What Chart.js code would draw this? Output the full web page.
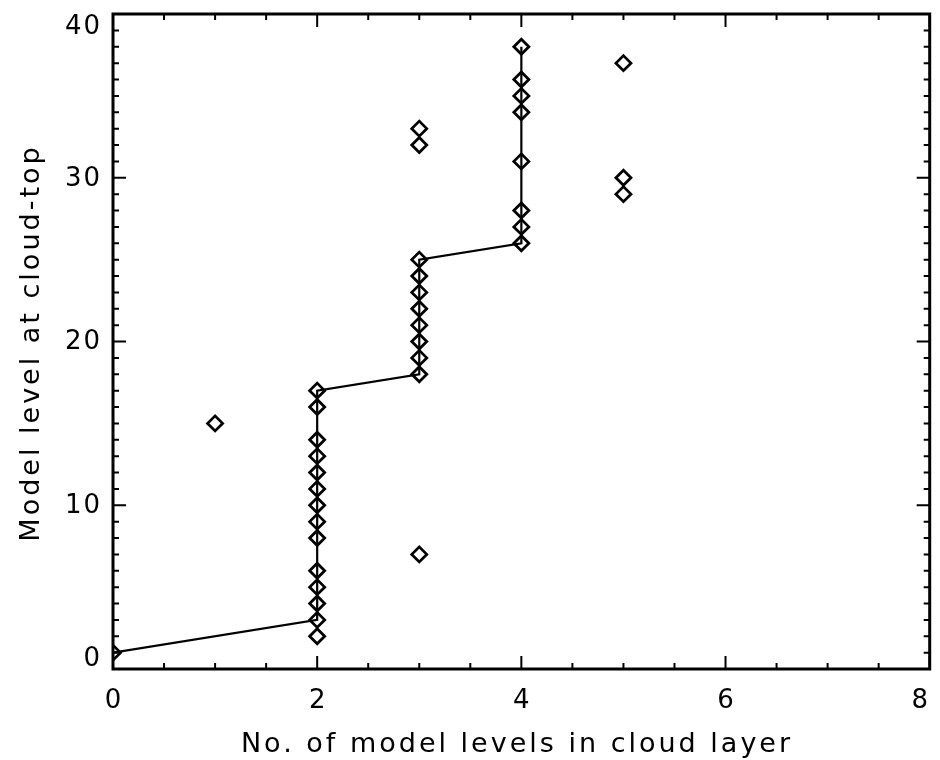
<!DOCTYPE html>
<html lang="en">
<head>
  <meta charset="UTF-8">
  <script src="https://cdn.jsdelivr.net/npm/chart.js"></script>
  <title>cloud top levels</title>
</head>
<style>
  body{
    margin: 0;
    background: #fff;
  }
  .container{
    width: 940px;
    height: 760px;
  }
</style>
<body>
  <div class="container">
    <canvas id="scatter" width="940" height="760"></canvas>
  </div>
  <script>
    // points: number of levels in the cloud layer vs level of the cloud top
    const layerLevels = [0, 1,
      2, 2, 2, 2, 2, 2, 2, 2, 2, 2, 2, 2, 2, 2,
      3, 3, 3, 3, 3, 3, 3, 3, 3, 3, 3,
      4, 4, 4, 4, 4, 4, 4, 4,
      5, 5, 5];
    const topLevels = [1, 15,
      2, 3, 4, 5, 6, 8, 9, 10, 11, 12, 13, 14, 16, 17,
      7, 18, 19, 20, 21, 22, 23, 24, 25, 32, 33,
      26, 27, 28, 31, 34, 35, 36, 38,
      29, 30, 37];

    // the step line
    const lineX = [0, 2, 2, 3, 3, 4, 4];
    const lineY = [1, 3, 17, 18, 25, 26, 38];

    const xTicks = [0, 2, 4, 6, 8];
    const yTicks = [0, 10, 20, 30, 40];

    const xTitle = 'No. of model levels in cloud layer';
    const yTitle = 'Model level at cloud-top';

    const points = layerLevels.map((x, i) => ({x: x, y: topLevels[i]}));
    const line = lineX.map((x, i) => ({x: x, y: lineY[i]}));

    // frame, ticks and labels drawn in the IDL style
    const axesPlugin = {
      id: 'idlAxes',
      afterDraw(chart) {
        const ctx = chart.ctx;
        const a = chart.chartArea;
        const xs = chart.scales.x, ys = chart.scales.y;
        ctx.save();
        ctx.strokeStyle = '#000';
        ctx.lineWidth = 3;
        ctx.strokeRect(a.left, a.top, a.right - a.left, a.bottom - a.top);

        ctx.lineWidth = 2;
        ctx.beginPath();
        for (let v = 0; v <= 8; v += 0.5) {
          const px = xs.getPixelForValue(v);
          const len = (v % 2 === 0) ? 13 : 6;
          ctx.moveTo(px, a.bottom); ctx.lineTo(px, a.bottom - len);
          ctx.moveTo(px, a.top); ctx.lineTo(px, a.top + len);
        }
        for (let v = 0; v <= 40; v += 1) {
          const py = ys.getPixelForValue(v);
          const len = (v % 10 === 0) ? 13 : 6;
          ctx.moveTo(a.left, py); ctx.lineTo(a.left + len, py);
          ctx.moveTo(a.right, py); ctx.lineTo(a.right - len, py);
        }
        ctx.stroke();

        ctx.fillStyle = '#000';
        ctx.font = '26px "DejaVu Sans"';
        ctx.letterSpacing = '2px';
        ctx.textBaseline = 'middle';
        ctx.textAlign = 'right';
        yTicks.forEach((v, i) => {
          let py = ys.getPixelForValue(v);
          if (i === 0) py -= 11;
          if (i === yTicks.length - 1) py += 12;
          ctx.fillText(String(v), a.left - 11, py + 1);
        });
        ctx.textAlign = 'center';
        xTicks.forEach((v, i) => {
          let px = xs.getPixelForValue(v);
          if (i === xTicks.length - 1) px -= 10;
          ctx.fillText(String(v), px + 1, a.bottom + 32);
        });

        ctx.font = '27px "DejaVu Sans"';
        ctx.letterSpacing = '3px';
        ctx.fillText(xTitle, 517, 745);
        ctx.translate(32, 343);
        ctx.rotate(-Math.PI / 2);
        ctx.fillText(yTitle, 0, 0);
        ctx.restore();
      }
    };

    new Chart(document.getElementById('scatter'), {
      type: 'scatter',
      data: {
        datasets: [{
          data: line,
          showLine: true,
          borderColor: '#000',
          borderWidth: 2.2,
          pointRadius: 0,
          tension: 0,
          clip: 0
        }, {
          data: points,
          pointStyle: 'rectRot',
          pointRadius: 7.5,
          pointHoverRadius: 7.5,
          pointBorderWidth: 2.8,
          pointBorderColor: '#000',
          pointBackgroundColor: 'rgba(0,0,0,0)',
          clip: 0
        }]
      },
      plugins: [axesPlugin],
      options: {
        responsive: false,
        animation: false,
        events: [],
        layout: {padding: {left: 113, top: 14, right: 9, bottom: 91}},
        plugins: {legend: {display: false}, tooltip: {enabled: false}},
        scales: {
          x: {type: 'linear', min: 0, max: 8, display: false},
          y: {type: 'linear', min: 0, max: 40, display: false}
        }
      }
    });
  </script>
</body>
</html>
